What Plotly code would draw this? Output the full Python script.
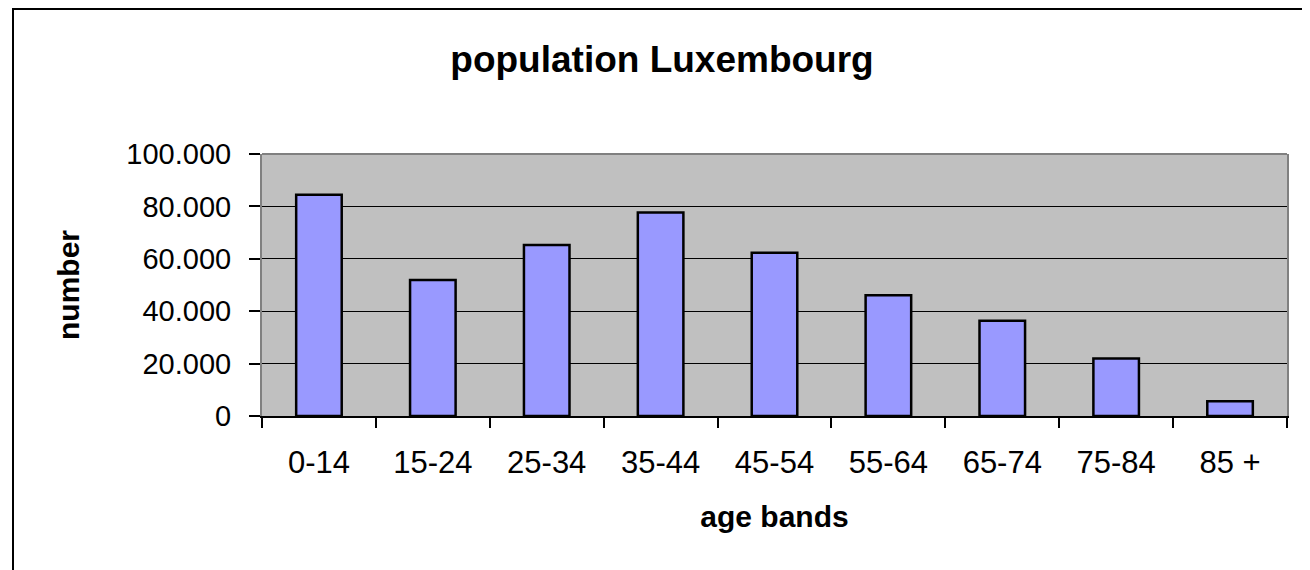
import plotly.graph_objects as go

categories = ["0-14", "15-24", "25-34", "35-44", "45-54", "55-64", "65-74", "75-84", "85 +"]
population = [84400, 51900, 65300, 77700, 62300, 46100, 36400, 21900, 5600]
y_tickvals = [0, 20000, 40000, 60000, 80000, 100000]

OFF = 8  # default page body margin
W, H = 1310 - OFF, 570 - OFF
# plot area in page pixels
L, R, T, B = 262, 1287, 154, 416

fig = go.Figure()
fig.add_trace(go.Bar(
    x=categories, y=population,
    marker=dict(color="#9999FF", line=dict(color="black", width=2.5)),
))

FONT = "Liberation Sans, Arial, sans-serif"

def px_x(p):
    return (p - L) / (R - L)

def px_y(p):
    return (B - p) / (B - T)

fig.update_layout(
    width=W, height=H,
    margin=dict(l=L - OFF, r=W - (R - OFF), t=T - OFF, b=H - (B - OFF)),
    paper_bgcolor="white",
    plot_bgcolor="#C0C0C0",
    bargap=0.6,
    showlegend=False,
    separators=",.",
    font=dict(family=FONT, color="black"),
    title=dict(text="<b>population Luxembourg</b>", x=(662 - OFF) / W, xanchor="center",
               y=1 - (59 - OFF) / H, yanchor="middle", yref="container",
               font=dict(size=37, family=FONT, color="black")),
    xaxis=dict(
        showline=True, linecolor="black", linewidth=1.5,
        ticks="outside", ticklen=10, tickcolor="black", tickwidth=1.5,
        tickson="boundaries", showgrid=False,
        tickfont=dict(size=31, family=FONT, color="black"),
        ticklabelstandoff=18,
        title=dict(text="<b>age bands</b>", font=dict(size=30, family=FONT, color="black"), standoff=27),
    ),
    yaxis=dict(
        range=[0, 100000], tickvals=y_tickvals, tickformat=",d",
        showline=True, linecolor="#808080", linewidth=2, mirror=True,
        ticks="outside", ticklen=11, tickcolor="black", tickwidth=1.5,
        showgrid=True, gridcolor="black", gridwidth=1, zeroline=False,
        tickfont=dict(size=29, family=FONT, color="black"),
        ticklabelstandoff=12,
        title=dict(text="<b>number</b>", font=dict(size=30, family=FONT, color="black"), standoff=38),
    ),
    shapes=[
        dict(type="line", xref="paper", yref="paper", x0=0, x1=1, y0=1, y1=1,
             line=dict(color="#808080", width=2)),
        dict(type="rect", xref="paper", yref="paper",
             x0=px_x(13), x1=px_x(1340), y0=px_y(9), y1=px_y(600),
             line=dict(color="black", width=2), fillcolor="rgba(0,0,0,0)", layer="below"),
    ],
)

fig.write_html("out.html")
